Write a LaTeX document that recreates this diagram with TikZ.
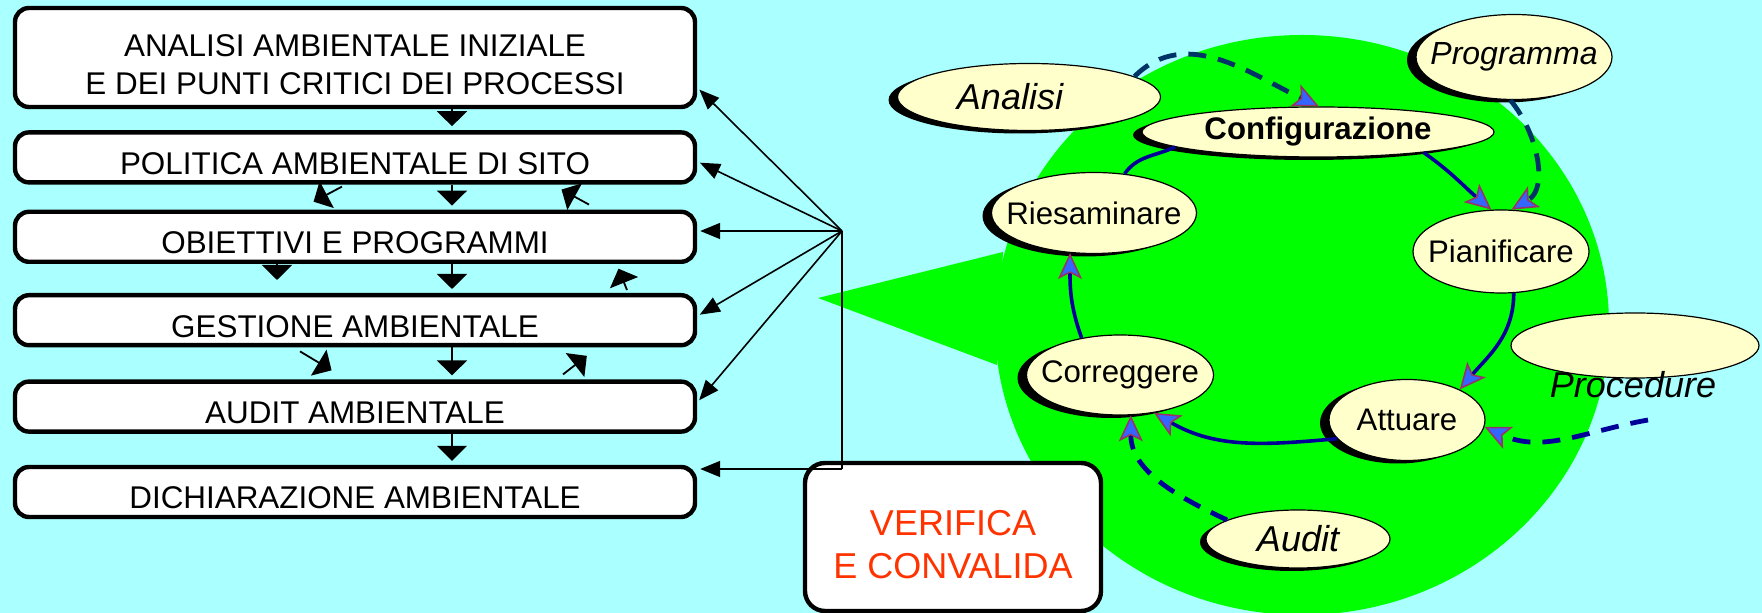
\documentclass[tikz,border=0pt]{standalone}
\usepackage{fontspec}
\setmainfont{Liberation Sans}
\usetikzlibrary{positioning,shapes.geometric,arrows.meta,shadows}

\definecolor{skyback}{RGB}{170,255,255}
\definecolor{blobgreen}{RGB}{0,255,0}
\definecolor{pale}{RGB}{255,255,204}
\definecolor{cyclenavy}{RGB}{0,0,153}
\definecolor{dashnavy}{RGB}{0,51,102}
\definecolor{tipblue}{RGB}{51,102,255}
\definecolor{tipplum}{RGB}{153,51,102}
\definecolor{checkred}{RGB}{255,51,0}

\newcommand{\ovaltext}[1]{\makebox[0pt]{#1}}

\tikzset{
  stage/.style={draw, line width=2.2pt, rounded corners=7pt, fill=white,
    minimum width=340pt, minimum height=25pt, inner sep=0pt,
    text height=21pt, text depth=4pt, font=\fontsize{15.7}{19}\selectfont},
  phase/.style={draw, ellipse, line width=0.6pt, fill=pale, inner sep=0pt,
    font=\fontsize{15.6}{18}\selectfont},
  source/.style={phase, font=\fontsize{18}{21}\selectfont\itshape},
  shadowed/.style={general shadow={fill=black, shadow xshift=#1, shadow yshift=-1.5pt}},
  shadowed/.default=-4.5pt,
  flow/.style={-{Triangle[length=7.5pt,width=15pt]}, line width=0.9pt, shorten >=2pt},
  verline/.style={-{Triangle[length=10pt,width=8pt]}, line width=0.8pt, shorten >=1.5pt},
  loopline/.style={-{Stealth[length=13pt,width=12pt,inset=3pt,fill=tipblue,color=tipplum,line width=0.8pt]},
    line width=1.8pt, cyclenavy},
  feed/.style={loopline, dash pattern=on 9pt off 6pt, line width=2.4pt},
}

\begin{document}
\begin{tikzpicture}[x=0.5pt, y=-0.5pt]
  \useasboundingbox (0,0) rectangle (1762,613);
  \fill[skyback] (0,0) rectangle (1762,613);

  % green bubble behind the cycle
  \fill[blobgreen] (1302,325) ellipse [x radius=153.5pt, y radius=145pt];
  \fill[blobgreen] (818,298) -- (1003,252) -- (997,365) -- cycle;

  % steps on the left
  \node[stage, align=center, minimum height=49.5pt, text height=43.5pt, text depth=6pt] (iniziale) at (355,57.5)
    {ANALISI AMBIENTALE INIZIALE\\E DEI PUNTI CRITICI DEI PROCESSI};
  \node[stage, below=10.5pt of iniziale] (politica) {POLITICA AMBIENTALE DI SITO};
  \node[stage, below=12.5pt of politica] (obiettivi) {OBIETTIVI E PROGRAMMI};
  \node[stage, below=14.5pt of obiettivi] (gestione) {GESTIONE AMBIENTALE};
  \node[stage, below=16pt of gestione] (auditamb) {AUDIT AMBIENTALE};
  \node[stage, below=15.5pt of auditamb] (dichiarazione) {DICHIARAZIONE AMBIENTALE};

  \foreach \a/\b in {iniziale/politica, politica/obiettivi, obiettivi/gestione, gestione/auditamb, auditamb/dichiarazione}
    \draw[flow] ([shift={(97,0)}]\a.south) -- ([shift={(97,0)}]\b.north);
  \draw[flow] ([shift={(-13,2)}]politica.south) -- ([shift={(-45,-6)}]obiettivi.north);
  \draw[flow] ([shift={(234,-5)}]obiettivi.north) -- ([shift={(203,3)}]politica.south);
  \draw[flow] ([shift={(-78,0)}]obiettivi.south) -- ([shift={(-78,-9)}]gestione.north);
  \draw[flow] ([shift={(272,-3)}]gestione.north) -- ([shift={(262,1)}]obiettivi.south);
  \draw[flow] ([shift={(-55,4)}]gestione.south) -- ([shift={(-20,-7)}]auditamb.north);
  \draw[flow] ([shift={(208,-5)}]auditamb.north) -- ([shift={(235,6)}]gestione.south);

  % verification box and its links
  \node[draw, line width=2.2pt, rounded corners=10pt, fill=white, minimum width=148pt, minimum height=74pt,
    inner sep=0pt, align=center, text height=58pt, text depth=16pt, text=checkred,
    font=\fontsize{18}{21.5}\selectfont] (verifica) at (953,537) {VERIFICA\\E CONVALIDA};

  \coordinate (hub) at (842,231);
  \coordinate (foot) at (842,469);
  \foreach \bx/\dy in {iniziale/30, politica/4, gestione/-4, auditamb/-4}
    \draw[verline] (hub) -- ([shift={(0,\dy)}]\bx.east);
  \draw[verline] (hub) -- (hub -| obiettivi.east);
  \draw[line width=0.8pt] (foot) -- (hub);
  \draw[verline] (foot) -- (foot -| dichiarazione.east);

  % cycle
  \node[source, shadowed, minimum width=131.5pt, minimum height=33.5pt] (analisi) at (1029,97) {\ovaltext{Analisi\hspace*{19pt}}};
  \node[phase, shadowed, minimum width=176pt, minimum height=25pt, font=\fontsize{15.6}{18}\selectfont\bfseries] (config) at (1318,132) {\ovaltext{Configurazione}};
  \node[source, shadowed, minimum width=98pt, minimum height=42.5pt, font=\fontsize{16}{19}\selectfont\itshape] (programma) at (1514,57) {\ovaltext{Programma}};
  \node[phase, shadowed, minimum width=102.5pt, minimum height=40.5pt] (riesaminare) at (1094,213) {\ovaltext{Riesaminare}};
  \node[phase, minimum width=88pt, minimum height=41.5pt] (pianificare) at (1501,251.5) {\ovaltext{Pianificare}};
  \node[phase, shadowed, minimum width=93.5pt, minimum height=40pt] (correggere) at (1120,375) {\ovaltext{Correggere}};
  \node[phase, shadowed, minimum width=78pt, minimum height=40.5pt] (attuare) at (1407,420) {\ovaltext{Attuare}};
  \node[phase, minimum width=124pt, minimum height=32.5pt] (procedure) at (1635,345.5) {};
  \node[anchor=base, font=\fontsize{18}{21}\selectfont\itshape] (proctext) at (1633,398) {Procedure};
  \node[source, shadowed=-3pt, minimum width=92pt, minimum height=29pt] (audit) at (1298,539) {\ovaltext{Audit}};

  \draw[loopline] (config.-11) to[out=-35, in=140] (pianificare.103);
  \draw[loopline] (pianificare.-73) to[out=-90, in=50] (attuare.30);
  \draw[loopline] (attuare.195) to[out=185, in=-30] (correggere.-48);
  \draw[loopline] (correggere.136) to[out=110, in=-90] (riesaminare.-121);
  \draw[loopline, -] (riesaminare.52) to[out=55, in=205] (config.186);

  \coordinate (procfoot) at (1648,420);
  \draw[feed, dashnavy] (analisi.11) to[out=45, in=155] (config.88);
  \draw[feed, dashnavy] (programma.-95) to[out=-50, in=30] (pianificare.76);
  \draw[feed] (procfoot) to[out=190, in=-25] (attuare.-5);
  \draw[feed] (audit.165) to[out=155, in=-90] (correggere.-75);
\end{tikzpicture}
\end{document}
